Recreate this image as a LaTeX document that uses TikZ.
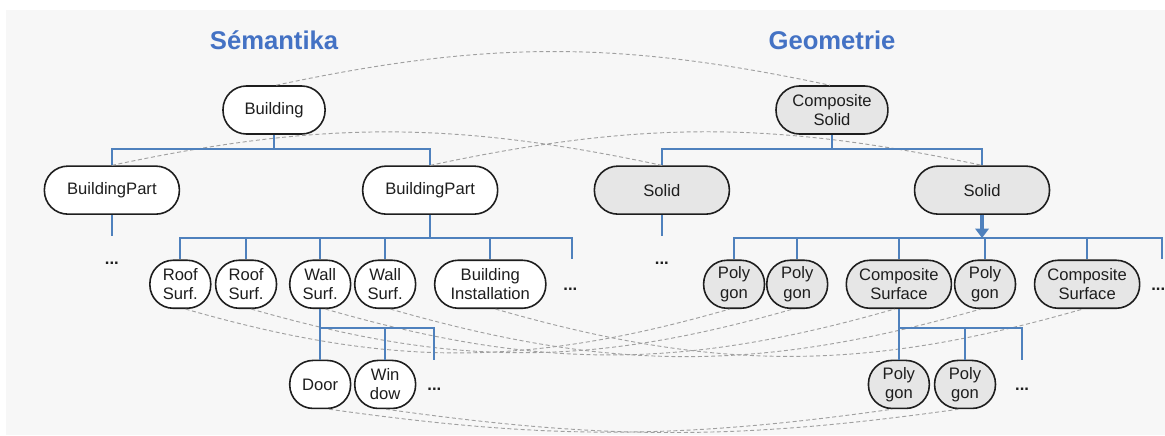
\documentclass[tikz,border=0pt]{standalone}
\usepackage{fontspec}
\setmainfont{Liberation Sans}
\usepackage{tikz}
\usetikzlibrary{positioning, arrows.meta}
\usepackage{color}
\definecolor{panel}{RGB}{247,247,247}
\definecolor{treeblue}{RGB}{79,129,189}
\definecolor{titleblue}{RGB}{68,114,196}
\definecolor{geofill}{RGB}{230,230,230}
\definecolor{linkgray}{RGB}{160,160,160}
\definecolor{ink}{RGB}{30,30,30}
\tikzstyle{box} = [rectangle,draw=ink,line width=1.2pt,rounded corners=0.62cm,minimum height=1.27cm,inner xsep=2pt,align=center,text=ink,font=\fontsize{12.5}{14.5}\selectfont]
\tikzstyle{sem} = [box,fill=white]
\tikzstyle{geo} = [box,fill=geofill]
\tikzstyle{narrow} = [minimum width=1.61cm]
\tikzstyle{broad} = [minimum width=3.57cm]
\tikzstyle{title} = [text=titleblue,font=\bfseries\fontsize{19.3}{23}\selectfont,anchor=base]
\tikzstyle{more} = [text=ink,font=\bfseries\fontsize{12.5}{14.5}\selectfont]
\tikzstyle{branch} = [draw=treeblue,line width=1.3pt]
\tikzstyle{link} = [draw=linkgray,line width=0.7pt,dash pattern=on 3pt off 2pt]

\begin{document}
\begin{tikzpicture}[node distance=2.12cm]
		\useasboundingbox (-7.25,2.91) rectangle (23.57,-8.60);
		\fill[panel] (-7.09,2.65) rectangle (23.57,-8.60);

		% semantics
		\node [sem,minimum width=2.7cm](bld){Building};
		\node [above of=bld,yshift=-0.51cm,title](semt){Sémantika};
		\node [sem,broad,below of=bld,xshift=-4.29cm](bpa){BuildingPart};
		\node [sem,broad,below of=bld,xshift=4.13cm](bpb){BuildingPart};
		\node [sem,narrow,below of=bpb,xshift=-6.61cm,yshift=-0.37cm](rfa){Roof\\Surf.};
		\node [sem,narrow,below of=bpb,xshift=-4.87cm,yshift=-0.37cm](rfb){Roof\\Surf.};
		\node [sem,narrow,below of=bpb,xshift=-2.91cm,yshift=-0.37cm](wla){Wall\\Surf.};
		\node [sem,narrow,below of=bpb,xshift=-1.19cm,yshift=-0.37cm](wlb){Wall\\Surf.};
		\node [sem,minimum width=2.94cm,below of=bpb,xshift=1.59cm,yshift=-0.37cm](bin){Building\\Installation};
		\node [sem,narrow,below of=wla,yshift=-0.53cm](dor){Door};
		\node [sem,narrow,below of=wlb,yshift=-0.53cm](win){Win\\dow};

		% geometry
		\node [geo,minimum width=2.96cm,right of=bld,xshift=12.64cm](cso){Composite\\Solid};
		\node [above of=cso,yshift=-0.51cm,title](geot){Geometrie};
		\node [geo,broad,below of=cso,xshift=-4.50cm](sla){Solid};
		\node [geo,broad,below of=cso,xshift=3.97cm](slb){Solid};
		\node [geo,narrow,below of=slb,xshift=-6.56cm,yshift=-0.37cm](pga){Poly\\gon};
		\node [geo,narrow,below of=slb,xshift=-4.89cm,yshift=-0.37cm](pgb){Poly\\gon};
		\node [geo,minimum width=2.78cm,below of=slb,xshift=-2.20cm,yshift=-0.37cm](csa){Composite\\Surface};
		\node [geo,narrow,below of=slb,xshift=0.08cm,yshift=-0.37cm](pgc){Poly\\gon};
		\node [geo,minimum width=2.78cm,below of=slb,xshift=2.78cm,yshift=-0.37cm](csb){Composite\\Surface};
		\node [geo,narrow,below of=csa,yshift=-0.53cm](pgd){Poly\\gon};
		\node [geo,narrow,below of=csa,xshift=1.75cm,yshift=-0.53cm](pge){Poly\\gon};

		% dots
		\node [more,below of=bpa,yshift=0.19cm](dta){...};
		\node [more,below of=sla,yshift=0.19cm](dtd){...};
		\node [more,right of=bin,yshift=-0.13cm](dtb){...};
		\node [more,right of=csb,xshift=-0.24cm,yshift=-0.13cm](dte){...};
		\node [more,right of=win,xshift=-0.82cm,yshift=-0.13cm](dtc){...};
		\node [more,right of=pge,xshift=-0.61cm,yshift=-0.13cm](dtf){...};

		% free ends
		\coordinate [below=0.56cm of bpa.south](sta);
		\coordinate [below=0.56cm of sla.south](std);
		\coordinate [right=2.17cm of bin.north](stb);
		\coordinate [right=1.98cm of csb.north](ste);
		\coordinate [right=1.30cm of win.north](stc);
		\coordinate [right=1.51cm of pge.north](stf);
		\coordinate [below=0.61cm of slb.south](slbbar);

		% links
		\draw[link](bld.85) to[bend left=12] (cso.95);
		\draw[link](bpa.north) to[bend left=12] (sla.north);
		\draw[link](bpb.north) to[bend left=12] (slb.north);
		\foreach \a/\b in {rfa/pga,rfb/pgb,wla/csa,wlb/pgc,bin/csb}
			\draw[link](\a.-78) to[bend right=16] (\b.-100);
		\draw[link](dor.-70) to[bend right=8] (pgd.-105);
		\draw[link](win.-88) to[bend right=8] (pge.-105);

		% tree
		\draw[branch](bld.south) -- ++(0,-0.37) -| (bpa.north);
		\draw[branch](bld.south) -- ++(0,-0.37) -| (bpb.north);
		\draw[branch](bpa.south) -- (sta);
		\foreach \n in {rfa,rfb,wla,wlb,bin}
			\draw[branch](bpb.south) -- ++(0,-0.61) -| (\n.north);
		\draw[branch](bpb.south) -- ++(0,-0.61) -| (stb);
		\draw[branch](wla.south) -- ++(0,-0.50) -| (dor.north);
		\draw[branch](wla.south) -- ++(0,-0.50) -| (win.north);
		\draw[branch](wla.south) -- ++(0,-0.50) -| (stc);

		\draw[branch](cso.south) -- ++(0,-0.37) -| (sla.north);
		\draw[branch](cso.south) -- ++(0,-0.37) -| (slb.north);
		\draw[branch](sla.south) -- (std);
		\foreach \n in {pga,pgb,csa,pgc,csb}
			\draw[branch](slb.south) -- ++(0,-0.61) -| (\n.north);
		\draw[branch](slb.south) -- ++(0,-0.61) -| (ste);
		\draw[branch,line width=2.6pt,-{Triangle[width=10pt,length=7pt]}](slb.south) -- (slbbar);
		\draw[branch](csa.south) -- ++(0,-0.50) -| (pgd.north);
		\draw[branch](csa.south) -- ++(0,-0.50) -| (pge.north);
		\draw[branch](csa.south) -- ++(0,-0.50) -| (stf);
\end{tikzpicture}
\end{document}
